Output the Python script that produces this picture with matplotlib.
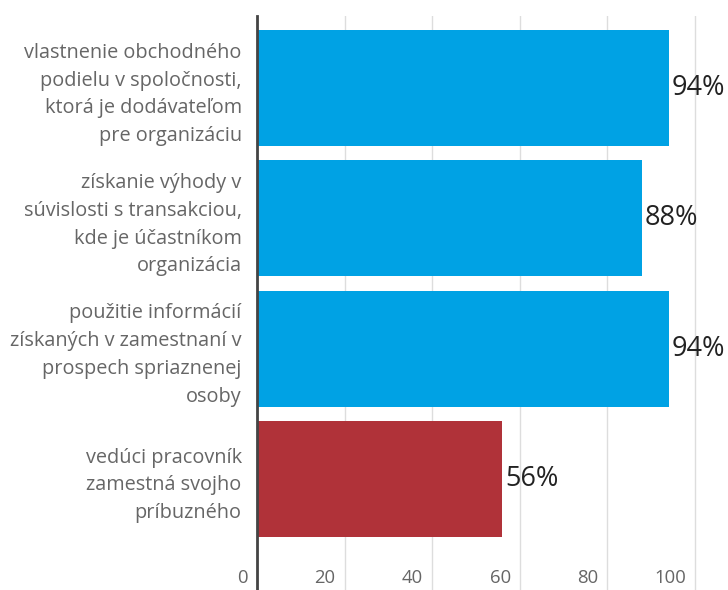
import matplotlib.pyplot as plt
import matplotlib.transforms as mtransforms

# data
categories = [
    'vlastnenie obchodného\npodielu v spoločnosti,\nktorá je dodávateľom\npre organizáciu',
    'získanie výhody v\nsúvislosti s transakciou,\nkde je účastníkom\norganizácia',
    'použitie informácií\nzískaných v zamestnaní v\nprospech spriaznenej\nosoby',
    'vedúci pracovník\nzamestná svojho\npríbuzného',
]
values = [94, 88, 94, 56]
labels = ['94%', '88%', '94%', '56%']
colors = ['#00a2e4', '#00a2e4', '#00a2e4', '#b03239']
xticks = [0, 20, 40, 60, 80, 100]

plt.rcParams['font.family'] = ['Open Sans', 'DejaVu Sans']

W, H = 728, 590
fig = plt.figure(figsize=(W / 100, H / 100), dpi=100)
ax = fig.add_axes([257 / W, 0, (W - 257) / W, (H - 16) / H])

y = list(range(len(values)))
ax.barh(y, values, height=0.89, color=colors, zorder=2)
ax.set_xlim(0, (W - 257) / 4.38)
ax.set_ylim(3.852, -0.553)

for yi, v, lab in zip(y, values, labels):
    ax.text(v + 0.6, yi, lab, va='center', ha='left', fontsize=19.5,
            color='#222222', zorder=3)

ax.set_yticks(y)
ax.set_yticklabels(categories, fontsize=14.3, color='#666666',
                   linespacing=1.52, ha='right')
ax.tick_params(axis='y', length=0, pad=11)

ax.set_xticks(xticks)
ax.set_xticklabels([str(t) for t in xticks], fontsize=13.3, color='#666666')
ax.tick_params(axis='x', length=0, pad=-15)
off = mtransforms.ScaledTranslation(-9 / 100, 0, fig.dpi_scale_trans)
for lab in ax.get_xticklabels():
    lab.set_ha('right')
    lab.set_transform(lab.get_transform() + off)

ax.grid(axis='x', color='#dddddd', linewidth=1, zorder=0)
ax.set_axisbelow(True)
for s in ['top', 'right', 'bottom']:
    ax.spines[s].set_visible(False)
ax.spines['left'].set_color('#444444')
ax.spines['left'].set_linewidth(2)
ax.spines['left'].set_zorder(4)

fig.savefig('out.png', dpi=100)
